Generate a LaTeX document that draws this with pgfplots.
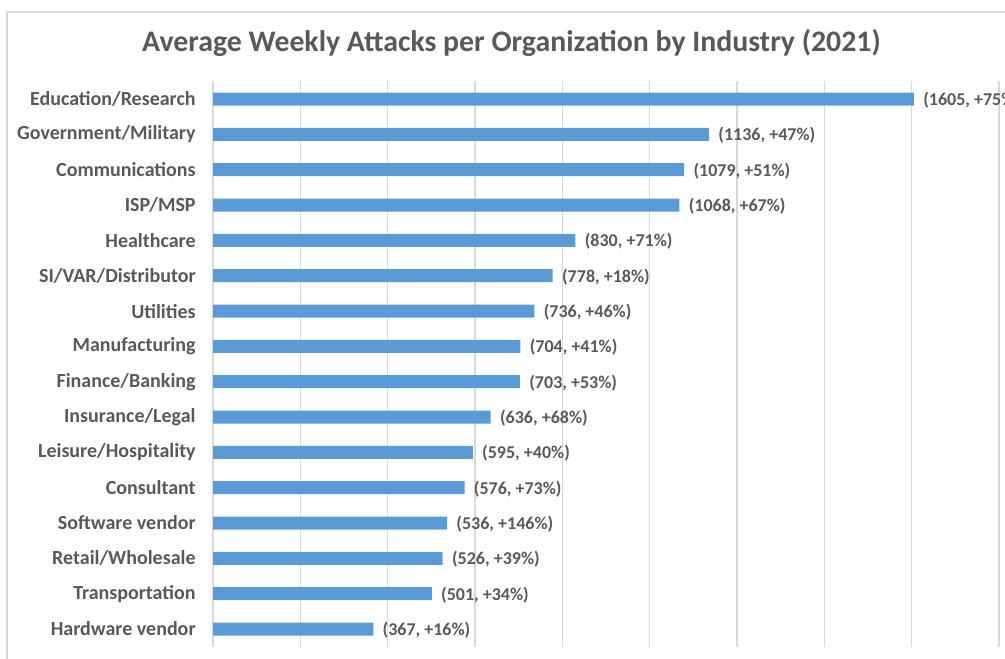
\documentclass[border=0pt]{standalone}
\usepackage{fontspec}
\setmainfont{Carlito}
\usepackage{pgfplots}
\usepackage{pgfplotstable}
\pgfplotsset{compat=1.18}
\definecolor{barblue}{HTML}{5B9BD5}
\definecolor{txtgray}{HTML}{595959}
\definecolor{gridgray}{HTML}{D9D9D9}

% pos = vertical slot (15 = top), value = weekly attacks, pct = change
\pgfplotstableread{
pos value pct
15 1605 75
14 1136 47
13 1079 51
12 1068 67
11 830 71
10 778 18
9 736 46
8 704 41
7 703 53
6 636 68
5 595 40
4 576 73
3 536 146
2 526 39
1 501 34
0 367 16
}\attacks

\begin{document}
\begin{tikzpicture}
  % chart area frame (cropped at right and bottom, as in the screenshot)
  \draw[gridgray, line width=0.6pt] (3.5pt,-340pt) -- (3.5pt,-6pt) -- (520pt,-6pt);
  \node[anchor=base, font=\fontsize{14.9}{17}\selectfont\bfseries, text=txtgray]
    at (255.75pt,-26pt) {Average Weekly Attacks per Organization by Industry (2021)};
  \begin{axis}[
      at={(106.5pt,-323.35pt)}, anchor=south west,
      scale only axis,
      width=393pt, height=282.65pt,
      xbar, bar width=6.5pt,
      xmin=0, xmax=1800, ymin=-0.5, ymax=15.5,
      xtick={0,200,...,1800}, xticklabels={},
      ytick={0,...,15},
      yticklabels={Hardware vendor,Transportation,Retail/Wholesale,Software vendor,Consultant,Leisure/Hospitality,Insurance/Legal,Finance/Banking,Manufacturing,Utilities,SI/VAR/Distributor,Healthcare,ISP/MSP,Communications,Government/Military,Education/Research},
      major tick length=0pt,
      axis line style={draw=none},
      xmajorgrids, grid style={draw=gridgray, line width=0.6pt},
      yticklabel style={font=\fontsize{10}{12}\selectfont\bfseries, text=txtgray, inner sep=0pt, xshift=-8.5pt},
      clip=false,
      point meta=x,
      visualization depends on={\thisrow{pct} \as \pct},
      nodes near coords={(\pgfmathprintnumber[fixed,precision=0,1000 sep={},assume math mode=true]{\pgfplotspointmeta}, +\pgfmathprintnumber[fixed,precision=0,1000 sep={},assume math mode=true]{\pct}\%)},
      nodes near coords style={anchor=west, inner sep=0pt, xshift=4.5pt, yshift=-0.5pt, font=\fontsize{9}{11}\selectfont\bfseries, text=txtgray},
    ]
    \addplot[fill=barblue, draw=none] table[x=value, y=pos] {\attacks};
  \end{axis}
  \pgfresetboundingbox
  \useasboundingbox (0,0) rectangle (502.5pt,-329pt);
\end{tikzpicture}
\end{document}
